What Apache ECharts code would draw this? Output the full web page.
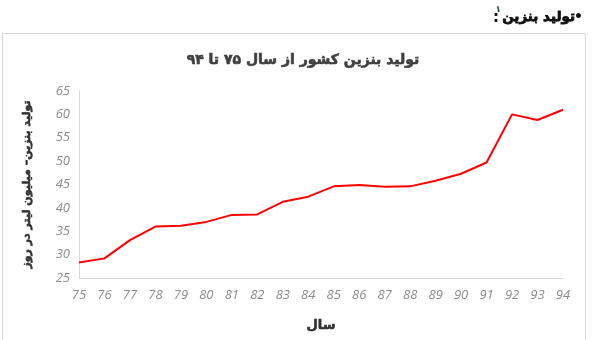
<!DOCTYPE html>
<html>
<head>
<meta charset="utf-8">
<script src="https://cdn.jsdelivr.net/npm/echarts@6/dist/echarts.min.js"></script>
<style>
  html, body { margin: 0; padding: 0; background: #fff; }
  #chart { width: 606px; height: 340px; }
</style>
</head>
<body>
<div id="chart"></div>
<script>
// Years (Persian calendar, last two digits)
const years = ['75','76','77','78','79','80','81','82','83','84','85','86','87','88','89','90','91','92','93','94'];
// Gasoline production, million litres per day
const production = [28.3, 29.2, 33.1, 36.0, 36.2, 37.0, 38.5, 38.6, 41.3, 42.4, 44.6, 44.9, 44.5, 44.6, 45.8, 47.3, 49.7, 60.0, 58.8, 61.0];
const yTicks = { min: 25, max: 65, step: 5 };

const persianFont = '"DejaVu Sans", "Noto Sans", sans-serif';
// faux-bold outline for Arabic glyphs (label text styles)
const heavy = (color, w) => ({ textBorderColor: color, textBorderWidth: w });

const chart = echarts.init(document.getElementById('chart'), null, { renderer: 'canvas' });

chart.setOption({
  animation: false,
  backgroundColor: '#ffffff',
  graphic: [
    {
      type: 'rect',
      shape: { x: 2.5, y: 33.5, width: 583, height: 320 },
      style: { fill: 'none', stroke: '#d9d9d9', lineWidth: 1 },
      silent: true
    },
    // section heading, laid out right to left: bullet, words, footnote mark, colon
    {
      type: 'text', x: 583, y: 17,
      style: { text: '•', font: 'bold 14px ' + persianFont, fill: '#111', align: 'right', verticalAlign: 'middle' }
    },
    {
      type: 'text', x: 575, y: 17,
      style: { text: 'تولید بنزین', font: 'bold 13.5px ' + persianFont, fill: '#111', stroke: '#111', lineWidth: 0.8, align: 'right', verticalAlign: 'middle' }
    },
    {
      type: 'text', x: 501, y: 10,
      style: { text: '۱', font: 'bold 9px ' + persianFont, fill: '#1f3864', align: 'right', verticalAlign: 'middle' }
    },
    {
      type: 'text', x: 499, y: 18,
      style: { text: ':', font: 'bold 15px ' + persianFont, fill: '#111', align: 'right', verticalAlign: 'middle' }
    }
  ],
  title: {
    text: 'تولید بنزین کشور از سال ۷۵ تا ۹۴',
    left: 'center',
    top: 48,
    textStyle: Object.assign({ fontFamily: persianFont, fontWeight: 'bold', fontSize: 14, color: '#404040' }, heavy('#404040', 0.6))
  },
  grid: { left: 79, right: 43, top: 91, bottom: 62 },
  xAxis: {
    type: 'category',
    data: years,
    boundaryGap: false,
    name: 'سال',
    nameLocation: 'middle',
    nameGap: 41,
    nameTextStyle: Object.assign({ fontFamily: persianFont, fontWeight: 'bold', fontSize: 13, color: '#333' }, heavy('#333', 0.6)),
    axisLine: { lineStyle: { color: '#d9d9d9', width: 1 } },
    axisTick: { show: false },
    axisLabel: {
      interval: 0, margin: 11,
      color: '#8c8c8c', fontSize: 13, fontStyle: 'italic',
      fontFamily: '"Open Sans", sans-serif'
    },
    splitLine: { show: false }
  },
  yAxis: {
    type: 'value',
    min: yTicks.min, max: yTicks.max, interval: yTicks.step,
    name: 'تولید بنزین– میلیون لیتر در روز',
    nameLocation: 'middle',
    nameGap: 46,
    nameRotate: 90,
    nameTextStyle: Object.assign({ fontFamily: persianFont, fontWeight: 'bold', fontSize: 11, color: '#333' }, heavy('#333', 0.6)),
    axisLine: { show: true, lineStyle: { color: '#d9d9d9', width: 1 } },
    axisTick: { show: false },
    axisLabel: {
      margin: 9,
      color: '#8c8c8c', fontSize: 13, fontStyle: 'italic',
      fontFamily: '"Open Sans", sans-serif'
    },
    splitLine: { show: false }
  },
  series: [{
    type: 'line',
    data: production,
    symbol: 'none',
    lineStyle: { color: '#ff0000', width: 2 }
  }]
});
</script>
</body>
</html>
